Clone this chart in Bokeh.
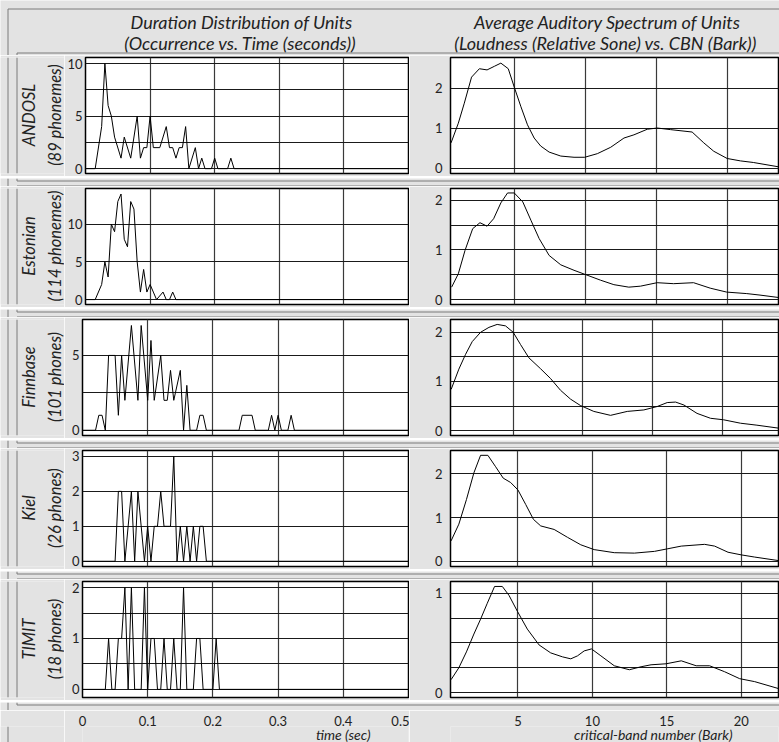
import numpy as np
from bokeh.plotting import figure
from bokeh.layouts import column, row
from bokeh.models import Range1d, FixedTicker, Label
from bokeh.embed import file_html
from bokeh.resources import INLINE

# ---------------- data ----------------
corpora = ["ANDOSL", "Estonian", "Finnbase", "Kiel", "TIMIT"]
unit_counts = ["(89 phonemes)", "(114 phonemes)", "(101 phones)", "(26 phones)", "(18 phones)"]

# duration distributions: time (s) vs occurrence
andosl_t = [0, 0.015, 0.025, 0.03, 0.035, 0.04, 0.045, 0.055, 0.06, 0.07, 0.08, 0.085, 0.09, 0.095,
            0.1, 0.105, 0.115, 0.125, 0.13, 0.135, 0.14, 0.145, 0.15, 0.155, 0.16, 0.17, 0.175,
            0.18, 0.185, 0.195, 0.2, 0.205, 0.22, 0.225, 0.23, 0.5]
andosl_n = [0, 0, 4, 10, 6, 5, 3, 1, 3, 1, 5, 1, 2, 2, 5, 2, 2, 4, 2, 2, 1, 2, 2, 4, 0, 2, 0,
            1, 0, 0, 1, 0, 0, 1, 0, 0]

estonian_t = [0, 0.015, 0.025, 0.03, 0.035, 0.04, 0.045, 0.05, 0.055, 0.06, 0.065, 0.07, 0.075,
              0.08, 0.085, 0.09, 0.095, 0.1, 0.105, 0.11, 0.12, 0.125, 0.13, 0.135, 0.14, 0.5]
estonian_n = [0, 0, 2, 5, 3, 10, 9, 13, 14, 8, 7, 13, 12, 5, 1, 4, 1, 2, 1, 0, 1, 0, 0, 1, 0, 0]

finnbase_t = [0, 0.02, 0.025, 0.03, 0.035, 0.04, 0.05, 0.055, 0.06, 0.065, 0.075, 0.085, 0.09,
              0.1, 0.105, 0.11, 0.12, 0.125, 0.13, 0.135, 0.14, 0.15, 0.155, 0.16, 0.165, 0.175,
              0.18, 0.185, 0.19, 0.24, 0.245, 0.26, 0.265, 0.285, 0.29, 0.295, 0.3, 0.305, 0.315,
              0.32, 0.325, 0.5]
finnbase_n = [0, 0, 1, 1, 0, 5, 5, 1, 5, 2, 7, 2, 7, 2, 6, 2, 5, 2, 2, 4, 2, 4, 0, 3, 0, 0,
              1, 1, 0, 0, 1, 1, 0, 0, 1, 0, 1, 0, 0, 1, 0, 0]

kiel_t = [0, 0.05, 0.055, 0.06, 0.065, 0.075, 0.08, 0.085, 0.095, 0.1, 0.105, 0.11, 0.115, 0.12,
          0.125, 0.135, 0.14, 0.145, 0.15, 0.155, 0.16, 0.165, 0.17, 0.175, 0.18, 0.185, 0.19, 0.5]
kiel_n = [0, 0, 2, 2, 0, 2, 0, 2, 0, 1, 0, 1, 1, 2, 1, 1, 3, 0, 1, 0, 1, 0, 1, 0, 1, 1, 0, 0]

timit_t = [0, 0.035, 0.04, 0.045, 0.05, 0.055, 0.06, 0.065, 0.07, 0.075, 0.08, 0.09, 0.095, 0.1,
           0.105, 0.11, 0.115, 0.12, 0.125, 0.13, 0.135, 0.14, 0.145, 0.15, 0.155, 0.16, 0.17,
           0.175, 0.18, 0.185, 0.2, 0.205, 0.21, 0.5]
timit_n = [0, 0, 1, 0, 0, 1, 1, 2, 0, 2, 0, 0, 2, 0, 1, 1, 0, 0, 1, 0, 0, 1, 0, 0, 2, 0, 0,
           1, 1, 0, 0, 1, 0, 0]

# average auditory spectra: critical-band number (Bark) vs loudness (relative sone)
andosl_bark = [0.56, 1.07, 1.49, 2.0, 2.55, 3.09, 3.6, 4.06, 4.58, 5.0, 5.47, 5.93, 6.4, 6.86,
               7.45, 8.27, 9.2, 9.95, 10.84, 11.78, 12.71, 13.41, 14.35, 15.05, 15.98, 17.5,
               18.32, 19.02, 19.96, 20.89, 21.8, 23.6]
andosl_loud = [0.64, 1.13, 1.63, 2.28, 2.49, 2.46, 2.55, 2.63, 2.49, 2.03, 1.54, 1.09, 0.76, 0.56,
               0.41, 0.31, 0.28, 0.28, 0.37, 0.53, 0.76, 0.84, 0.98, 1.01, 0.97, 0.91,
               0.64, 0.43, 0.25, 0.19, 0.15, 0.04]

estonian_bark = [0.6, 1.07, 1.54, 2.08, 2.59, 3.09, 3.55, 4.06, 4.53, 5.0, 5.6, 6.17, 6.75, 7.45,
                 8.27, 9.2, 9.95, 11.07, 12.0, 13.05, 13.87, 15.04, 16.2, 17.6, 18.77, 19.93,
                 21.34, 22.27, 23.6]
estonian_loud = [0.25, 0.52, 0.99, 1.43, 1.55, 1.48, 1.63, 1.95, 2.15, 2.15, 1.97, 1.6, 1.23, 0.89,
                 0.70, 0.59, 0.51, 0.39, 0.30, 0.25, 0.27, 0.34, 0.32, 0.34, 0.23, 0.15,
                 0.12, 0.09, 0.04]

finnbase_bark = [0.55, 1.1, 1.58, 2.06, 2.66, 3.26, 3.85, 4.45, 5.0, 5.53, 6.13, 6.96, 7.68, 8.4,
                 9.12, 9.83, 10.79, 11.99, 13.19, 14.38, 15.34, 16.06, 16.66, 17.26, 18.2, 19.17,
                 20.1, 21.32, 22.5, 24.05]
finnbase_loud = [0.84, 1.25, 1.55, 1.81, 2.0, 2.10, 2.16, 2.13, 2.0, 1.75, 1.48, 1.26, 1.06, 0.82,
                 0.64, 0.51, 0.39, 0.31, 0.39, 0.42, 0.49, 0.57, 0.58, 0.52, 0.35, 0.25,
                 0.22, 0.15, 0.11, 0.05]

kiel_bark = [0.51, 1.03, 1.54, 2.04, 2.49, 2.98, 3.5, 4.01, 4.51, 5.0, 5.52, 6.04, 6.53, 7.43,
             8.33, 9.22, 10.12, 11.47, 12.82, 14.17, 15.07, 15.97, 17.54, 18.21, 19.11, 20.0,
             20.9, 22.5]
kiel_loud = [0.47, 0.85, 1.41, 2.02, 2.42, 2.42, 2.16, 1.90, 1.80, 1.63, 1.30, 0.96, 0.81, 0.73,
             0.55, 0.38, 0.27, 0.20, 0.19, 0.23, 0.29, 0.35, 0.39, 0.35, 0.21, 0.15,
             0.10, 0.02]

timit_bark = [0.51, 1.03, 1.54, 2.04, 2.49, 2.94, 3.43, 3.95, 4.4, 4.96, 5.63, 6.42, 7.2, 7.99,
              8.55, 9.0, 9.45, 9.94, 10.57, 11.47, 12.48, 13.27, 13.94, 14.95, 15.97, 16.97,
              17.87, 18.88, 19.89, 20.9, 22.5]
timit_loud = [0.13, 0.25, 0.41, 0.59, 0.74, 0.90, 1.07, 1.07, 0.98, 0.82, 0.64, 0.48, 0.40, 0.36,
              0.34, 0.37, 0.42, 0.44, 0.37, 0.27, 0.23, 0.26, 0.28, 0.29, 0.32, 0.27,
              0.27, 0.21, 0.14, 0.11, 0.04]

time_ticks = [0, 0.1, 0.2, 0.3, 0.4, 0.5]
bark_ticks = [5, 10, 15, 20]

dur_series = [(andosl_t, andosl_n), (estonian_t, estonian_n), (finnbase_t, finnbase_n),
              (kiel_t, kiel_n), (timit_t, timit_n)]
spec_series = [(andosl_bark, andosl_loud), (estonian_bark, estonian_loud),
               (finnbase_bark, finnbase_loud), (kiel_bark, kiel_loud), (timit_bark, timit_loud)]

# ---------------- per-row axis setup ----------------
left_yrange = [(-0.46, 10.57), (-0.65, 14.73), (-0.35, 7.4), (-0.15, 3.17), (-0.16, 2.12)]
left_yticks = [[0, 5, 10], [0, 5, 10], [0, 5], [0, 1, 2, 3], [0, 1, 2]]
left_ygrid = [[0, 2.5, 5, 7.5, 10], [0, 5, 10], [0, 2.5, 5], [0, 1, 2, 3], [0, 0.5, 1, 1.5, 2]]

right_xrange = [(0.52, 23.57), (0.52, 23.57), (0.5, 24.05), (0.47, 22.5), (0.47, 22.5)]
right_yrange = [(-0.125, 2.77), (-0.1, 2.24), (-0.1, 2.26), (-0.115, 2.53), (-0.05, 1.12)]
right_yticks = [[0, 1, 2], [0, 1, 2], [0, 1, 2], [0, 1, 2], [0, 1]]
right_ygrid = [[0, 1, 2], [0, 0.5, 1, 1.5, 2], [0, 0.5, 1, 1.5, 2], [0, 1, 2],
               [0, 0.25, 0.5, 0.75, 1]]

# ---------------- style / layout constants ----------------
BG = "#e3e3e3"
BOX = "#7a7a7a"
INK = "#222222"
FONT = "Lato"
W = 779
STRIP_W, LEFT_W, RIGHT_W = 64, 345, 370
LEFT_MB, RIGHT_MB = 18, 41
HDR_H = 55
FR_TOP, FR_H, FR_BOT = 2, 116, 3
ROW_H = FR_TOP + FR_H + FR_BOT   # 121
GAP_H = 10                       # band holding the edges between two row boxes
END_H = 10
FOOT_H = 32
FOOT_AX = 16


def deco_fig(w, h):
    """A plain grey band whose data units are its pixels (used for text and frame lines)."""
    p = figure(width=w, height=h, x_range=Range1d(0, w), y_range=Range1d(h, 0),
               x_axis_location=None, y_axis_location=None, min_border=0,
               toolbar_location=None, output_backend="svg", outline_line_color=None,
               background_fill_color=BG, border_fill_color=BG)
    p.grid.visible = False
    return p


def deco_lines(p, x0, y0, x1, y1):
    p.segment(x0=x0, y0=y0, x1=x1, y1=y1, line_color=BOX, line_width=1)


def style_axis(ax, standoff):
    ax.axis_line_color = None
    ax.major_tick_line_color = None
    ax.minor_tick_line_color = None
    ax.major_tick_out = 0
    ax.major_tick_in = 0
    ax.major_label_standoff = standoff
    ax.major_label_text_font = FONT
    ax.major_label_text_font_size = "13px"
    ax.major_label_text_color = INK


def plot_fig(width, xr, yr, mb_left):
    p = figure(width=width, height=ROW_H, x_range=xr, y_range=Range1d(*yr),
               x_axis_location=None, y_axis_location="left",
               min_border_left=mb_left, min_border_right=1,
               min_border_top=FR_TOP, min_border_bottom=FR_BOT,
               toolbar_location=None, output_backend="svg",
               background_fill_color="white", border_fill_color=BG,
               outline_line_color="black", outline_line_width=1.5)
    p.xgrid.grid_line_color = "#3a3a3a"
    p.xgrid.grid_line_width = 1.2
    p.ygrid.grid_line_color = "#1a1a1a"
    p.ygrid.grid_line_width = 1.2
    return p


# ---------------- header (titles + top edge of the first row box) ----------------
hdr = deco_fig(W, HDR_H)
for txt, x, y in [("Duration Distribution of Units", 241, 21),
                  ("(Occurrence vs. Time (seconds))", 240, 42),
                  ("Average Auditory Spectrum of Units", 607, 21),
                  ("(Loudness (Relative Sone) vs. CBN (Bark))", 605, 42)]:
    hdr.add_layout(Label(x=x, y=y, text=txt, text_align="center", text_baseline="middle",
                         text_font=FONT, text_font_style="italic", text_font_size="18px",
                         text_color=INK))
deco_lines(hdr, [7.5, 7.5, 16.5, 16.5], [8.5, 8.5, 52.5, 52.5],
           [W, 7.5, W, 16.5], [8.5, HDR_H, 52.5, HDR_H])

blocks = [hdr]

left_xr = None
right_xr = None
for i in range(5):
    # strip with the corpus name
    strip = deco_fig(STRIP_W, ROW_H)
    deco_lines(strip, [7.5, 16.5], [0, 0], [7.5, 16.5], [ROW_H, ROW_H])
    for txt, x in [(corpora[i], 28), (unit_counts[i], 54)]:
        strip.add_layout(Label(x=x, y=FR_TOP + FR_H / 2, text=txt, angle=90, angle_units="deg",
                               text_align="center", text_baseline="middle", text_font=FONT,
                               text_font_style="italic", text_font_size="16.5px",
                               text_color=INK))

    # left: duration distribution
    left_xr = Range1d(0, 0.5)
    lp = plot_fig(LEFT_W, left_xr, left_yrange[i], LEFT_MB)
    lp.yaxis.ticker = FixedTicker(ticks=left_yticks[i])
    lp.ygrid.ticker = FixedTicker(ticks=left_ygrid[i])
    lp.xgrid.ticker = FixedTicker(ticks=time_ticks)
    style_axis(lp.yaxis[0], 3)
    t, n = dur_series[i]
    lp.line(t, n, line_color="black", line_width=1)

    # right: auditory spectrum
    right_xr = Range1d(*right_xrange[i])
    rp = plot_fig(RIGHT_W, right_xr, right_yrange[i], RIGHT_MB)
    rp.yaxis.ticker = FixedTicker(ticks=right_yticks[i])
    rp.ygrid.ticker = FixedTicker(ticks=right_ygrid[i])
    rp.xgrid.ticker = FixedTicker(ticks=bark_ticks)
    style_axis(rp.yaxis[0], 8)
    b, l = spec_series[i]
    rp.line(b, l, line_color="black", line_width=1)

    blocks.append(row(strip, lp, rp, spacing=0))

    if i < 4:
        gap = deco_fig(W, GAP_H)
        deco_lines(gap, [7.5, 16.5, 16.5, 16.5, 16.5], [0, 0, 2.5, 7.5, 7.5],
                   [7.5, 16.5, W, W, 16.5], [GAP_H, 2.5, 2.5, 7.5, GAP_H])
        blocks.append(gap)

# band holding the bottom edge of the last row box
end = deco_fig(W, END_H)
deco_lines(end, [7.5, 16.5, 16.5], [0, 0, 2.5], [7.5, 16.5, W], [END_H, 2.5, 2.5])
blocks.append(end)

# ---------------- footer: x axes + axis titles ----------------
fstrip = deco_fig(STRIP_W, FOOT_H)
deco_lines(fstrip, [7.5], [0], [7.5], [FOOT_H])


def foot_fig(width, xr, mb_left, ticks, title, title_x):
    fh = FOOT_H - FOOT_AX
    p = figure(width=width, height=FOOT_H, x_range=xr, y_range=Range1d(fh, 0),
               x_axis_location="above", y_axis_location=None,
               min_border_left=mb_left, min_border_right=1, min_border_top=FOOT_AX,
               min_border_bottom=0, toolbar_location=None, output_backend="svg",
               background_fill_color=BG, border_fill_color=BG, outline_line_color=None)
    p.grid.visible = False
    p.xaxis.ticker = FixedTicker(ticks=ticks)
    style_axis(p.xaxis[0], 1)
    p.add_layout(Label(x=title_x, y=fh / 2, text=title, text_align="center",
                       text_baseline="middle", text_font=FONT, text_font_style="italic",
                       text_font_size="14px", text_color=INK))
    return p


lf = foot_fig(LEFT_W, left_xr, LEFT_MB, time_ticks, "time (sec)", 0.4)
lf.xaxis.major_label_overrides = {0: "0"}
rf = foot_fig(RIGHT_W, right_xr, RIGHT_MB, bark_ticks, "critical-band number (Bark)", 14.1)
blocks.append(row(fstrip, lf, rf, spacing=0))

layout = column(*blocks, spacing=0)
open("out.html", "w").write(file_html(layout, INLINE))
